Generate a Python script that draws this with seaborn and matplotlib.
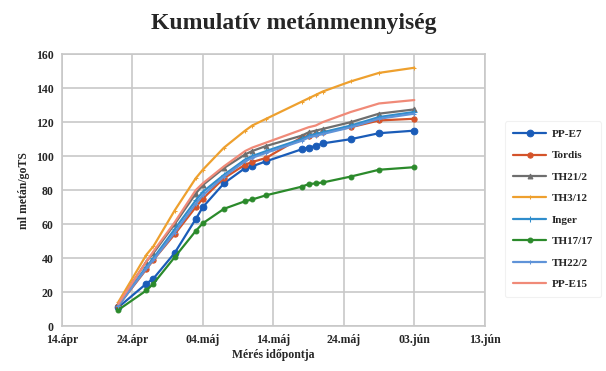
import pandas as pd
import matplotlib.pyplot as plt
import seaborn as sns

# Mérési időpontok
dates = pd.to_datetime([
    "2019-04-22", "2019-04-26", "2019-04-27", "2019-04-30", "2019-05-03",
    "2019-05-04", "2019-05-07", "2019-05-10", "2019-05-11", "2019-05-13",
    "2019-05-18", "2019-05-19", "2019-05-20", "2019-05-21", "2019-05-25",
    "2019-05-29", "2019-06-03",
])

pp_e7 = [11, 25, 28, 43, 63, 70, 84, 93, 94, 97, 104, 105, 106, 107.5, 110, 113.5, 115]
tordis = [12, 33.5, 39, 54, 70, 75, 87, 95, 96.5, 99, 111, 112, 113, 114, 117, 121, 122]
th21_2 = [13, 38, 43, 60, 78, 83, 93, 101, 103, 106, 112, 114, 115, 116, 120, 125, 127.5]
th3_12 = [14, 42, 47, 68, 87, 92, 105, 115, 118, 122, 132, 134, 136, 138, 144, 149, 152]
inger = [12, 35, 40, 57, 74, 79, 89, 98, 100, 103, 110, 112, 113, 114, 118, 123, 126]
th17_17 = [9.5, 21, 25, 40.5, 56, 60.5, 69, 73.5, 74.5, 77, 82, 83.5, 84, 84.5, 88, 92, 93.5]
th22_2 = [12, 34, 39, 55, 72, 77, 88, 97, 99, 102, 109, 111, 112, 113, 117, 122, 125]
pp_e15 = [13, 38, 44, 61, 80, 84, 94, 103, 105, 108, 115.5, 117, 118, 120, 126, 131, 133]

series = [
    ("PP-E7", pp_e7, "#1a5cb8", "o", 4.8),
    ("Tordis", tordis, "#d4532a", "o", 3.8),
    ("TH21/2", th21_2, "#6e6e6e", "^", 3.5),
    ("TH3/12", th3_12, "#eea02e", "+", 3.5),
    ("Inger", inger, "#2f8dcc", "+", 4),
    ("TH17/17", th17_17, "#2b8a2b", "o", 3.5),
    ("TH22/2", th22_2, "#5f93d8", "+", 3.5),
    ("PP-E15", pp_e15, "#f08a78", None, 0),
]

tick_dates = pd.to_datetime(["2019-04-14", "2019-04-24", "2019-05-04", "2019-05-14",
                             "2019-05-24", "2019-06-03", "2019-06-13"])
tick_labels = ["14.ápr", "24.ápr", "04.máj", "14.máj", "24.máj", "03.jún", "13.jún"]

sns.set_style("white")
plt.rcParams["font.family"] = ["Liberation Serif", "DejaVu Serif"]

fig = plt.figure(figsize=(6.06, 3.71), dpi=100)
ax = fig.add_axes([0.102, 0.121, 0.698, 0.733])

for name, vals, color, marker, ms in series:
    sns.lineplot(x=dates, y=vals, ax=ax, color=color, marker=marker,
                 markersize=ms, markeredgecolor=color, linewidth=1.6, label=name)

ax.set_xlim(tick_dates[0], tick_dates[-1])
ax.set_ylim(0, 160)
ax.set_xticks(tick_dates)
ax.set_xticklabels(tick_labels)
ax.set_yticks(range(0, 161, 20))
ax.grid(True, color="#c8c8c8", linewidth=1.2)
for sp in ax.spines.values():
    sp.set_color("#c8c8c8")
    sp.set_linewidth(1.2)
ax.tick_params(length=0, labelsize=8.5, pad=6)
for lab in ax.get_xticklabels() + ax.get_yticklabels():
    lab.set_fontweight("bold")

ax.set_xlabel("Mérés időpontja", fontsize=8.5, fontweight="bold", labelpad=2)
ax.set_ylabel("ml metán/goTS", fontsize=8.5, fontweight="bold", labelpad=4)
fig.suptitle("Kumulatív metánmennyiség", x=0.485, y=0.965, fontsize=17, fontweight="bold")

leg = ax.legend(loc="center left", bbox_to_anchor=(1.035, 0.43), frameon=True,
                handlelength=3, labelspacing=1.05, borderpad=0.7, handletextpad=0.5,
                prop={"weight": "bold", "size": 8})
leg.get_frame().set_edgecolor("#eeeeee")
leg.get_frame().set_linewidth(0.8)

plt.savefig("out.png", dpi=100)
plt.close()
